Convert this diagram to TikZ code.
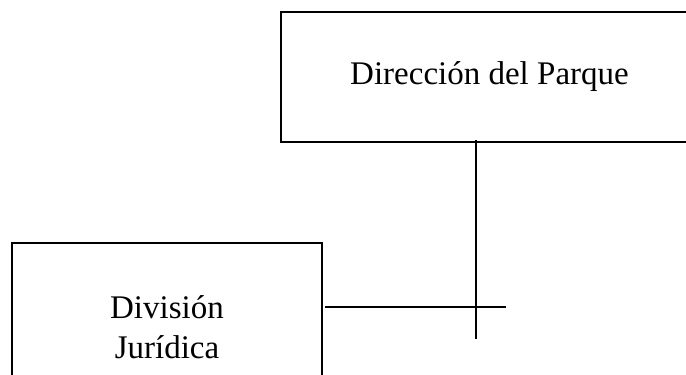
\documentclass[tikz,border=0pt]{standalone}
\usepackage{fontspec}
\setmainfont{Liberation Serif}
\usetikzlibrary{positioning}

\begin{document}
\begin{tikzpicture}[x=1pt,y=-1pt,unit/.style={rectangle, draw, line width=2.2pt, align=center, font=\fontsize{33}{40}\selectfont},link/.style={line width=1.8pt}]
	\useasboundingbox (0,0) rectangle (686,375);
	\clip (0,0) rectangle (686,375);
	% nodes
	\node[unit, minimum width=417pt, minimum height=130pt] (dir) at (489.5,77) {Dirección del Parque};%
	\node[unit, minimum width=310pt, minimum height=168pt] (div) at (167,327) {División\\Jurídica};%

	% ends of the connectors
	\coordinate (vend) at (476,339);
	\coordinate (hend) at (506,307);

	% edges
	\draw[link] ([yshift=3pt]dir.south -| vend) -- (vend);
	\draw[link] ([xshift=2pt]div.east |- hend) -- (hend);
\end{tikzpicture}
\end{document}
